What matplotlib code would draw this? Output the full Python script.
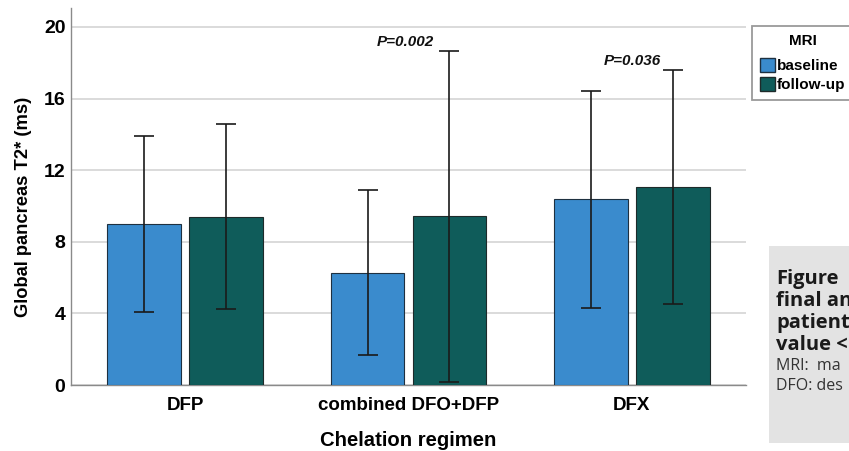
import matplotlib
matplotlib.use("Agg")
import matplotlib.pyplot as plt
import numpy as np
from matplotlib.patches import Patch, Rectangle

categories = ["DFP", "combined DFO+DFP", "DFX"]
baseline = [9.0, 6.25, 10.38]
baseline_lo = [4.1, 1.68, 4.3]
baseline_hi = [13.9, 10.9, 16.42]
followup = [9.38, 9.43, 11.05]
followup_lo = [4.23, 0.17, 4.5]
followup_hi = [14.56, 18.65, 17.62]
series_names = ["baseline", "follow-up"]
pvalue_groups = [1, 2]
pvalue_x = [0.987, 2.0]
pvalue_text = ["P=0.002", "P=0.036"]
yticks = [0, 4, 8, 12, 16, 20]

plt.rcParams['font.family'] = ['Liberation Sans', 'DejaVu Sans']

W, H = 849, 451
fig = plt.figure(figsize=(W / 100, H / 100), dpi=100)
ax = fig.add_axes([71 / W, 66 / H, 675 / W, 377 / H])

c_base = "#3a8bcd"
c_fu = "#0f5c5a"
x = np.arange(len(categories))
bw = 0.33
off = 0.183

b = np.array(baseline)
f = np.array(followup)
err_b = [b - np.array(baseline_lo), np.array(baseline_hi) - b]
err_f = [f - np.array(followup_lo), np.array(followup_hi) - f]

ekw = dict(ecolor="#1a1a1a", elinewidth=1.2, capsize=7, capthick=1.2)
ax.bar(x - off, b, bw, color=c_base, edgecolor="#1e3040", linewidth=0.8,
       yerr=err_b, error_kw=ekw, zorder=3)
ax.bar(x + off, f, bw, color=c_fu, edgecolor="#1e2a2a", linewidth=0.8,
       yerr=err_f, error_kw=ekw, zorder=3)

for gi, px, txt in zip(pvalue_groups, pvalue_x, pvalue_text):
    ax.text(px, followup_hi[gi] + 0.26, txt, ha="center", va="baseline",
            fontsize=11, fontweight="bold", style="italic", color="#111111",
            zorder=5)

ax.set_xlim(-0.511, 2.511)
ax.set_ylim(0, 21.06)
ax.set_yticks(yticks)
ax.set_yticklabels([str(t) for t in yticks], fontsize=14, fontweight="bold")
ax.set_xticks(x)
ax.set_xticklabels(categories, fontsize=13.5, fontweight="bold")
ax.tick_params(axis="y", length=0, pad=4)
ax.tick_params(axis="x", length=0, pad=9)
ax.yaxis.grid(True, color="#d4d4d4", linewidth=1.2, zorder=0)
ax.set_axisbelow(True)
for s in ["top", "right"]:
    ax.spines[s].set_visible(False)
for s in ["left", "bottom"]:
    ax.spines[s].set_color("#8a8a8a")
    ax.spines[s].set_linewidth(1.0)

ax.set_ylabel("Global pancreas T2* (ms)", fontsize=13.2, fontweight="bold")
ax.yaxis.set_label_coords(-39 / 675, 0.472)
ax.set_xlabel("Chelation regimen", fontsize=14.6, fontweight="bold", labelpad=12)

handles = [Patch(facecolor=c_base, edgecolor="#1e3040", label=series_names[0]),
           Patch(facecolor=c_fu, edgecolor="#1e2a2a", label=series_names[1])]
leg = fig.legend(handles=handles, title="MRI", loc="upper left",
                 bbox_to_anchor=(752 / W, 1 - 26 / H), frameon=True,
                 fancybox=False, edgecolor="#808080", prop=dict(size=11, weight="bold"),
                 title_fontproperties=dict(size=11, weight="bold"),
                 handlelength=1.0, handleheight=1.0, handletextpad=0.15,
                 borderpad=0.5, labelspacing=0.27, borderaxespad=0)
leg.get_frame().set_linewidth(1.3)
leg._legend_box.sep = 7.5

# caption box (cut off at figure edge, as in the source page)
fig.patches.append(Rectangle((769 / W, 1 - 443 / H), 100 / W, (443 - 246) / H,
                             transform=fig.transFigure, facecolor="#e3e3e3",
                             edgecolor="none", zorder=0))
cap_bold = ["Figure", "final an", "patient", "value <"]
cap_reg = ["MRI:  ma", "DFO: des"]
for t, yy in zip(cap_bold, [279, 301, 323, 345]):
    fig.text(776 / W, 1 - yy / H, t, fontsize=14.5, fontweight="bold",
             family=["Open Sans", "DejaVu Sans"], color="#1a1a1a", va="center")
for t, yy in zip(cap_reg, [366, 386]):
    fig.text(776 / W, 1 - yy / H, t, fontsize=11.5,
             family=["Open Sans", "DejaVu Sans"], color="#333333", va="center")

fig.savefig("out.png", dpi=100)
